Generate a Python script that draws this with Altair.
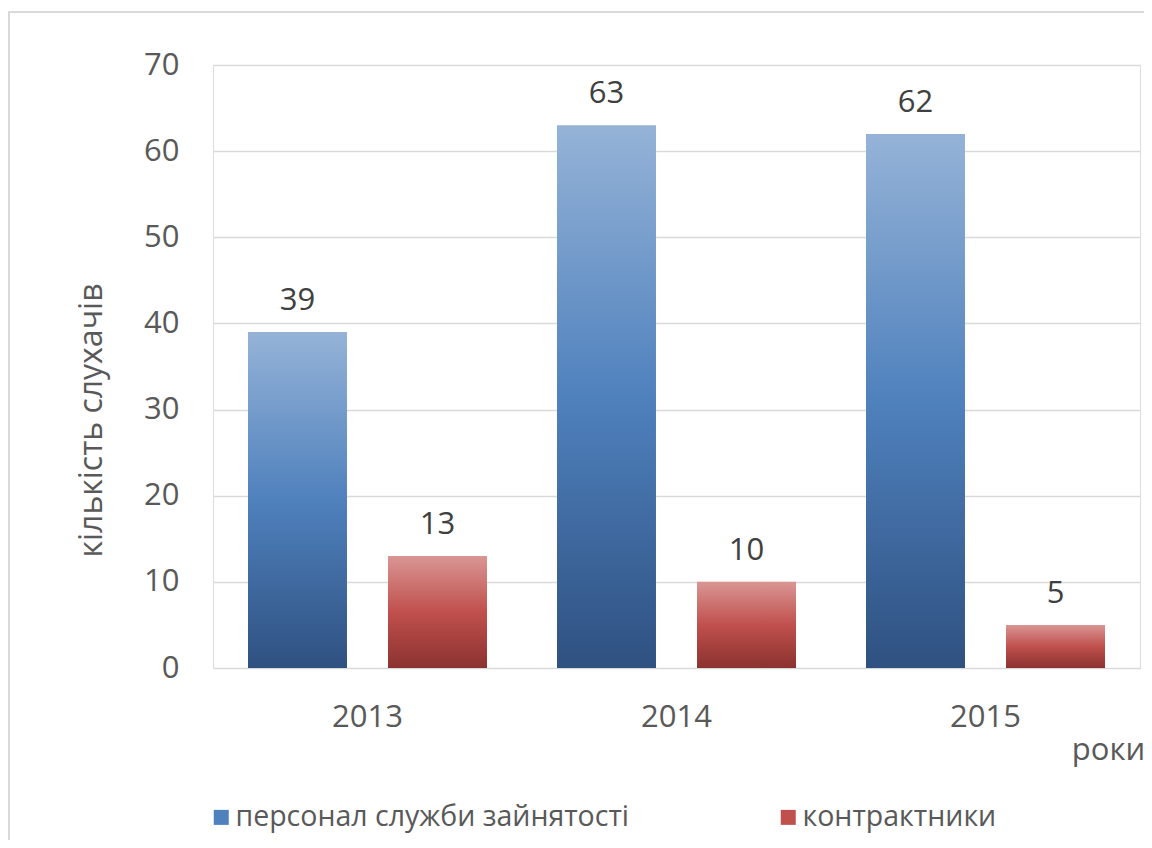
import altair as alt
import pandas as pd

years = ["2013", "2014", "2015"]
series = ["персонал служби зайнятості", "контрактники"]
staff = [39, 63, 62]
contractors = [13, 10, 5]

rows = []
for i, y in enumerate(years):
    rows.append({"year": y, "series": series[0], "value": staff[i]})
    rows.append({"year": y, "series": series[1], "value": contractors[i]})
df = pd.DataFrame(rows)

FONT = "Open Sans"
TXT = "#595959"

blue_grad = alt.LinearGradient(
    gradient="linear", x1=0, y1=0, x2=0, y2=1,
    stops=[alt.GradientStop(offset=0, color="#95b3d7"),
           alt.GradientStop(offset=0.5, color="#4f81bd"),
           alt.GradientStop(offset=1, color="#2f5181")])
red_grad = alt.LinearGradient(
    gradient="linear", x1=0, y1=0, x2=0, y2=1,
    stops=[alt.GradientStop(offset=0, color="#d99694"),
           alt.GradientStop(offset=0.5, color="#c0504d"),
           alt.GradientStop(offset=1, color="#8b3230")])

x_enc = alt.X("year:N", sort=years,
              scale=alt.Scale(paddingInner=0, paddingOuter=0),
              axis=alt.Axis(title="роки", labelFontSize=31, labelColor=TXT, labelFont=FONT,
                            labelPadding=34, ticks=False, domain=False, labelAngle=0,
                            titleFontSize=31, titleColor=TXT, titleFont=FONT, titleFontWeight="normal",
                            titleX=895, titleY=82, titleAlign="center", titleBaseline="middle"))
xo_enc = alt.XOffset("series:N", sort=series,
                     scale=alt.Scale(paddingInner=0.293, paddingOuter=0.25))
y_enc = alt.Y("value:Q", scale=alt.Scale(domain=[0, 70], nice=False),
              axis=alt.Axis(title="кількість слухачів", values=[0, 10, 20, 30, 40, 50, 60, 70],
                            labelFontSize=31, labelColor=TXT, labelFont=FONT, labelPadding=34,
                            ticks=False, domain=False, grid=True, gridColor="#d9d9d9", gridWidth=1.5,
                            titleFontSize=32, titleColor=TXT, titleFont=FONT, titleFontWeight="normal",
                            titleX=-122, titleY=355, titleAngle=270, titleAlign="center",
                            titleBaseline="middle"))
color_enc = alt.Color("series:N", sort=series,
                      scale=alt.Scale(domain=series, range=["#4f81bd", "#c0504d"]),
                      legend=alt.Legend(title=None, orient="none", legendX=-6, legendY=738,
                                        direction="horizontal", symbolType="square", symbolSize=225,
                                        symbolStrokeWidth=0, labelFontSize=28.5, labelColor=TXT,
                                        labelFont=FONT, columnPadding=144, labelOffset=0,
                                        labelLimit=1000))

base = alt.Chart(df).encode(x=x_enc, xOffset=xo_enc, y=y_enc)

bars_blue = base.transform_filter(alt.datum.series == series[0]).mark_bar(
    fill=blue_grad).encode(color=color_enc)
bars_red = base.transform_filter(alt.datum.series == series[1]).mark_bar(
    fill=red_grad).encode(color=color_enc)

labels = base.mark_text(baseline="bottom", dy=-15, fontSize=31, font=FONT, color="#404040").encode(
    text=alt.Text("value:Q"))

border = alt.Chart(pd.DataFrame({"a": [0]})).mark_rect(
    fill=None, stroke="#d9d9d9", strokeWidth=2, clip=False).encode(
    x=alt.value(-204), x2=alt.value(1200), y=alt.value(-53), y2=alt.value(900))

chart = alt.layer(border, bars_blue, bars_red, labels).properties(
    width=927, height=603,
    autosize=alt.AutoSizeParams(type="none"),
    padding={"left": 205, "top": 57, "right": 4, "bottom": 172},
).configure_view(stroke=None).configure(font=FONT)

chart.save("out.html", embed_options={"renderer": "svg", "actions": False})
